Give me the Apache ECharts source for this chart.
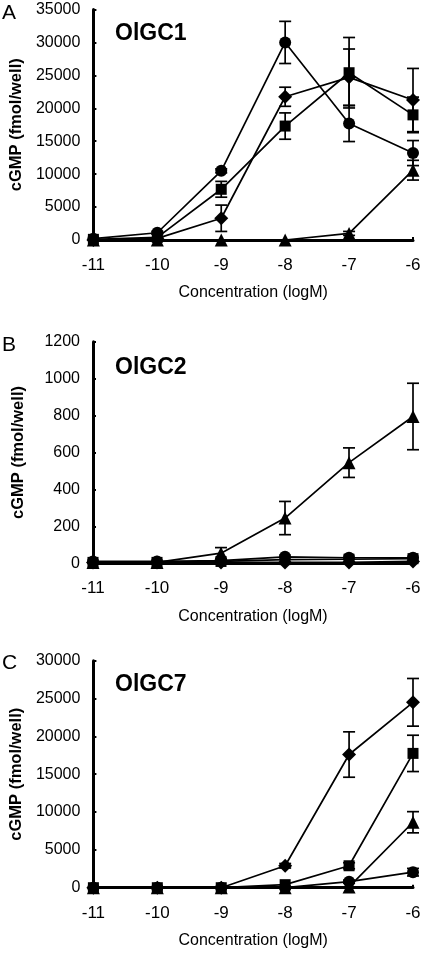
<!DOCTYPE html>
<html><head><meta charset="utf-8">
<script src="https://cdn.jsdelivr.net/npm/echarts@6/dist/echarts.min.js"></script>
<style>html,body{margin:0;padding:0;background:#fff}#c{width:429px;height:955px}</style>
</head><body><div id="c"></div>
<script>
const xVals = [-11, -10, -9, -8, -7, -6];
const xTicks = ['-11', '-10', '-9', '-8', '-7', '-6'];

// Panel A: OlGC1
const circA = [200, 1100, 10500, 30000, 17700, 13200];
const circAErr = [0, 200, 300, 3200, 2750, 1900];
const sqA = [100, 400, 7700, 17300, 25400, 19000];
const sqAErr = [0, 0, 1200, 2000, 5350, 2700];
const diaA = [0, 250, 3300, 21750, 24700, 21250];
const diaAErr = [0, 0, 2000, 1450, 4300, 4800];
const triA = [0, 0, 0, 0, 1000, 10600];
const triAErr = [0, 0, 0, 0, 300, 1500];

// Panel B: OlGC2
const circB = [10, 10, 15, 35, 30, 30];
const circBErr = [0, 0, 0, 0, 0, 0];
const sqB = [5, 5, 10, 20, 22, 25];
const sqBErr = [0, 0, 0, 0, 0, 0];
const diaB = [5, 5, 5, 5, 5, 10];
const diaBErr = [0, 0, 0, 0, 0, 0];
const triB = [5, 5, 55, 245, 545, 795];
const triBErr = [0, 0, 30, 90, 80, 180];

// Panel C: OlGC7
const circC = [0, 0, 0, 0, 800, 2050];
const circCErr = [0, 0, 0, 0, 200, 500];
const sqC = [0, 0, 0, 400, 2900, 17750];
const sqCErr = [0, 0, 0, 0, 400, 2400];
const diaC = [0, 0, 0, 2900, 17600, 24500];
const diaCErr = [0, 0, 0, 300, 3000, 3150];
const triC = [0, 0, 0, 0, 100, 8650];
const triCErr = [0, 0, 0, 0, 0, 1400];

const panelLetters = ['A', 'B', 'C'];
const panelTitles = ['OlGC1', 'OlGC2', 'OlGC7'];
const yMax = [35000, 1200, 30000];
const yStep = [5000, 200, 5000];

const FONT = 'Liberation Sans, Arial, sans-serif';
const grids = [
  {left: 93, right: 16, top: 9.5, bottom: 715},
  {left: 93, right: 16, top: 341.7, bottom: 391.7},
  {left: 93, right: 16, top: 660.7, bottom: 67.3}
];

const panels = [
  [[circA, circAErr, 'circle', 12], [sqA, sqAErr, 'rect', 11], [diaA, diaAErr, 'diamond', 14], [triA, triAErr, 'triangle', 13]],
  [[circB, circBErr, 'circle', 12], [sqB, sqBErr, 'rect', 11], [diaB, diaBErr, 'diamond', 14], [triB, triBErr, 'triangle', 13]],
  [[circC, circCErr, 'circle', 12], [sqC, sqCErr, 'rect', 11], [diaC, diaCErr, 'diamond', 14], [triC, triCErr, 'triangle', 13]]
];

const xAxis = grids.map((g, i) => ({
  type: 'value', gridIndex: i, min: -11, max: -6, interval: 1,
  name: 'Concentration (logM)', nameLocation: 'middle', nameGap: 45,
  nameTextStyle: {fontSize: 16, color: '#000', fontFamily: FONT},
  axisLine: {lineStyle: {color: '#000', width: 3}},
  axisTick: {inside: true, length: 3, lineStyle: {color: '#000', width: 2}},
  axisLabel: {fontSize: 17, color: '#000', margin: 17, fontFamily: FONT,
    formatter: v => xTicks[xVals.indexOf(v)] || ''},
  splitLine: {show: false}
}));

const yAxis = grids.map((g, i) => ({
  type: 'value', gridIndex: i, min: 0, max: yMax[i], interval: yStep[i],
  name: 'cGMP (fmol/well)', nameLocation: 'middle', nameGap: 66,
  nameTextStyle: {fontSize: 16.5, fontWeight: 'bold', color: '#000', fontFamily: FONT},
  axisLine: {show: true, lineStyle: {color: '#000', width: 3}},
  axisTick: {show: true, inside: true, length: 3, lineStyle: {color: '#000', width: 2}},
  axisLabel: {fontSize: 16, color: '#000', margin: 13, fontFamily: FONT, formatter: v => String(v)},
  splitLine: {show: false}
}));

const series = [];
panels.forEach((ser, p) => {
  ser.forEach(([vals, errs, sym, size]) => {
    series.push({
      type: 'custom', xAxisIndex: p, yAxisIndex: p, z: 3,
      data: xVals.map((x, i) => [x, vals[i], errs[i]]),
      renderItem: (params, api) => {
        const x = api.value(0), y = api.value(1), e = api.value(2);
        if (!e) return null;
        const t = api.coord([x, y + e]), b = api.coord([x, Math.max(0, y - e)]);
        const st = {stroke: '#000', lineWidth: 1.7};
        return {type: 'group', children: [
          {type: 'line', shape: {x1: t[0], y1: t[1], x2: b[0], y2: b[1]}, style: st},
          {type: 'line', shape: {x1: t[0] - 6, y1: t[1], x2: t[0] + 6, y2: t[1]}, style: st},
          {type: 'line', shape: {x1: b[0] - 6, y1: b[1], x2: b[0] + 6, y2: b[1]}, style: st}
        ]};
      }
    });
    series.push({
      type: 'line', xAxisIndex: p, yAxisIndex: p, z: 4,
      data: xVals.map((x, i) => [x, vals[i]]),
      symbol: sym, symbolSize: size, showSymbol: true,
      itemStyle: {color: '#000'},
      lineStyle: {color: '#000', width: 1.7},
      animation: false, clip: false
    });
  });
});

const titleTops = [[3, 22], [335, 356], [653, 673]];
const title = [];
panelLetters.forEach((l, i) => {
  title.push({text: l, left: 2, top: titleTops[i][0], padding: 0,
    textStyle: {fontSize: 21, fontWeight: 'normal', color: '#000', fontFamily: FONT}});
  title.push({text: panelTitles[i], left: 115, top: titleTops[i][1], padding: 0,
    textStyle: {fontSize: 23, fontWeight: 'bold', color: '#000', fontFamily: FONT}});
});

const chart = echarts.init(document.getElementById('c'), null, {renderer: 'canvas'});
chart.setOption({animation: false, backgroundColor: '#fff', title, grid: grids, xAxis, yAxis, series});
</script></body></html>
